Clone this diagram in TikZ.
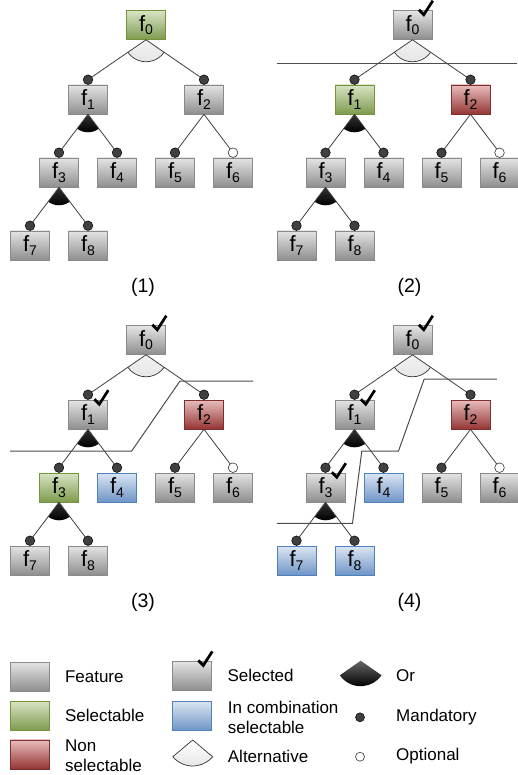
\documentclass[tikz,border=0pt]{standalone}
\usepackage{fontspec}
\setmainfont{Liberation Sans}
\usetikzlibrary{positioning}

\definecolor{grtop}{HTML}{E4E4E4}
\definecolor{grbot}{HTML}{8E8E8E}
\definecolor{grline}{HTML}{8A8A8A}
\definecolor{gntop}{HTML}{D8E4C4}
\definecolor{gnbot}{HTML}{7E9B4E}
\definecolor{gnline}{HTML}{76923C}
\definecolor{rdtop}{HTML}{E8BDBC}
\definecolor{rdbot}{HTML}{943634}
\definecolor{rdline}{HTML}{7F2F2D}
\definecolor{bltop}{HTML}{DCE6F2}
\definecolor{blbot}{HTML}{6F95C7}
\definecolor{blline}{HTML}{4F81BD}

\tikzset{
  feat/.style={rectangle, inner sep=0pt, minimum width=39pt, minimum height=29pt,
    top color=grtop, bottom color=grbot, draw=grline, line width=0.6pt,
    font=\fontsize{22}{22}\selectfont},
  sel/.style={top color=gntop, bottom color=gnbot, draw=gnline},
  nonsel/.style={top color=rdtop, bottom color=rdbot, draw=rdline},
  comb/.style={top color=bltop, bottom color=blbot, draw=blline},
  conn/.style={draw=black!75, line width=0.8pt},
  cutline/.style={draw=black!70, line width=1pt},
  alt/.style={top color=white, bottom color=gray!20, draw=black!80, line width=0.7pt},
  orgrp/.style={top color=black!60, bottom color=black},
  mand/.style={fill=black!75, draw=black, line width=0.5pt},
  opt/.style={fill=white, draw=black!80, line width=0.6pt},
  tickmark/.style={draw=black, line width=2.7pt, line join=miter},
  lbl/.style={inner sep=0pt, font=\fontsize{17}{20}\selectfont, align=left},
  panelcap/.style={inner sep=0pt, font=\fontsize{19.5}{19.5}\selectfont}
}

% feature name with subscript
\newcommand{\fn}[1]{f\raisebox{-3.5pt}{\fontsize{14}{14}\selectfont #1}}
% check mark at the top right corner of a node
\newcommand{\chkmark}[1]{\draw[tickmark] ([shift={(-13.5,0.5)}]#1.north east) -- ++(5,-5) -- ++(9,14);}
% one feature model, styles of f0 ... f8
\newcommand{\fmtree}[9]{%
  \node[feat,#1] (f0) at (146,-25)    {\fn{0}};
  \node[feat,#2] (f1) at (88,-99.5)   {\fn{1}};
  \node[feat,#3] (f2) at (204,-99.5)  {\fn{2}};
  \node[feat,#4] (f3) at (59,-172.5)  {\fn{3}};
  \node[feat,#5] (f4) at (117,-172.5) {\fn{4}};
  \node[feat,#6] (f5) at (175,-172.5) {\fn{5}};
  \node[feat,#7] (f6) at (233,-172.5) {\fn{6}};
  \node[feat,#8] (f7) at (30,-245.5)  {\fn{7}};
  \node[feat,#9] (f8) at (88,-245.5)  {\fn{8}};
  \foreach \c in {1,...,8}
    \coordinate (d\c) at ([yshift=5pt]f\c.north);
  % groups
  \begin{scope}
    \clip (f0.south) -- (d1) -- (d2) -- cycle;
    \shadedraw[alt] (f0.south) circle (22);
  \end{scope}
  \begin{scope}
    \clip (f1.south) -- (d3) -- (d4) -- cycle;
    \shade[orgrp] (f1.south) circle (18);
  \end{scope}
  \begin{scope}
    \clip (f3.south) -- (d7) -- (d8) -- cycle;
    \shade[orgrp] (f3.south) circle (18);
  \end{scope}
  \foreach \p/\c in {0/1,0/2,1/3,1/4,2/5,2/6,3/7,3/8}
    \draw[conn] (f\p.south) -- (d\c);
  \foreach \c in {1,2,3,4,5,7,8}
    \filldraw[mand] (d\c) circle (4.8);
  \filldraw[opt] (d6) circle (4.8);
}

\begin{document}
\begin{tikzpicture}[x=1pt, y=1pt]
  \useasboundingbox (0,0) rectangle (517,-775);

  % (1)
  \begin{scope}[name prefix=a-]
    \fmtree{sel}{}{}{}{}{}{}{}{}
    \node[panelcap] (lab) at (143,-287) {(1)};
  \end{scope}

  % (2)
  \begin{scope}[shift={(266.5,0)}, name prefix=b-]
    \fmtree{}{sel}{nonsel}{}{}{}{}{}{}
    \chkmark{f0}
    \draw[cutline] (10,-63.7) -- (250,-63.7);
    \node[panelcap] (lab) at (143,-287) {(2)};
  \end{scope}

  % (3)
  \begin{scope}[shift={(0,-315)}, name prefix=c-]
    \fmtree{}{}{nonsel}{sel}{comb}{}{}{}{}
    \chkmark{f0}
    \chkmark{f1}
    \draw[cutline] (10,-136) -- (131.7,-136) -- (180,-66) -- (253,-66);
    \node[panelcap] (lab) at (143,-287) {(3)};
  \end{scope}

  % (4)
  \begin{scope}[shift={(266.5,-315)}, name prefix=d-]
    \fmtree{}{}{nonsel}{}{comb}{}{}{comb}{comb}
    \chkmark{f0}
    \chkmark{f1}
    \chkmark{f3}
    \draw[cutline] (10.3,-208.3) -- (86,-208.3) -- (95.3,-136) -- (132,-136)
      -- (157.7,-64) -- (230.3,-64);
    \node[panelcap] (lab) at (143,-287) {(4)};
  \end{scope}

  % legend
  \node[feat] (kfeat) at (30,-676.7) {};
  \node[feat,sel] (ksel) at (30,-715.7) {};
  \node[feat,nonsel] (knon) at (30,-754.3) {};
  \node[feat] (kchk) at (192,-675.7) {};
  \chkmark{kchk}
  \node[feat,comb] (kcomb) at (192,-715.7) {};
  \coordinate (kalt) at (192.7,-740);
  \shadedraw[alt] (kalt) -- ++(220:26) arc[start angle=220, end angle=320, radius=26] -- cycle;
  \coordinate (kor) at (360.7,-660.7);
  \shade[orgrp] (kor) -- ++(215:25.5) arc[start angle=215, end angle=325, radius=25.5] -- cycle;
  \coordinate (kmand) at (360,-717.3);
  \filldraw[mand] (kmand) circle (4.5);
  \coordinate (kopt) at (360,-756.7);
  \filldraw[opt] (kopt) circle (4.5);

  \node[lbl, right=15pt of kfeat] (tfeat) {Feature};
  \node[lbl, right=15pt of ksel] (tsel) {Selectable};
  \node[lbl, anchor=west] (tnon) at (65,-755.8) {Non\\selectable};
  \node[lbl, right=15.5pt of kchk] (tchk) {Selected};
  \node[lbl, anchor=west] (tcomb) at (227.7,-717.5) {In combination\\selectable};
  \node[lbl, anchor=west] (talt) at (227.7,-756) {Alternative};
  \node[lbl, anchor=west] (tor) at (396,-676) {Or};
  \node[lbl, anchor=west] (tmand) at (396,-717.5) {Mandatory};
  \node[lbl, anchor=west] (topt) at (396,-756) {Optional};
\end{tikzpicture}
\end{document}
